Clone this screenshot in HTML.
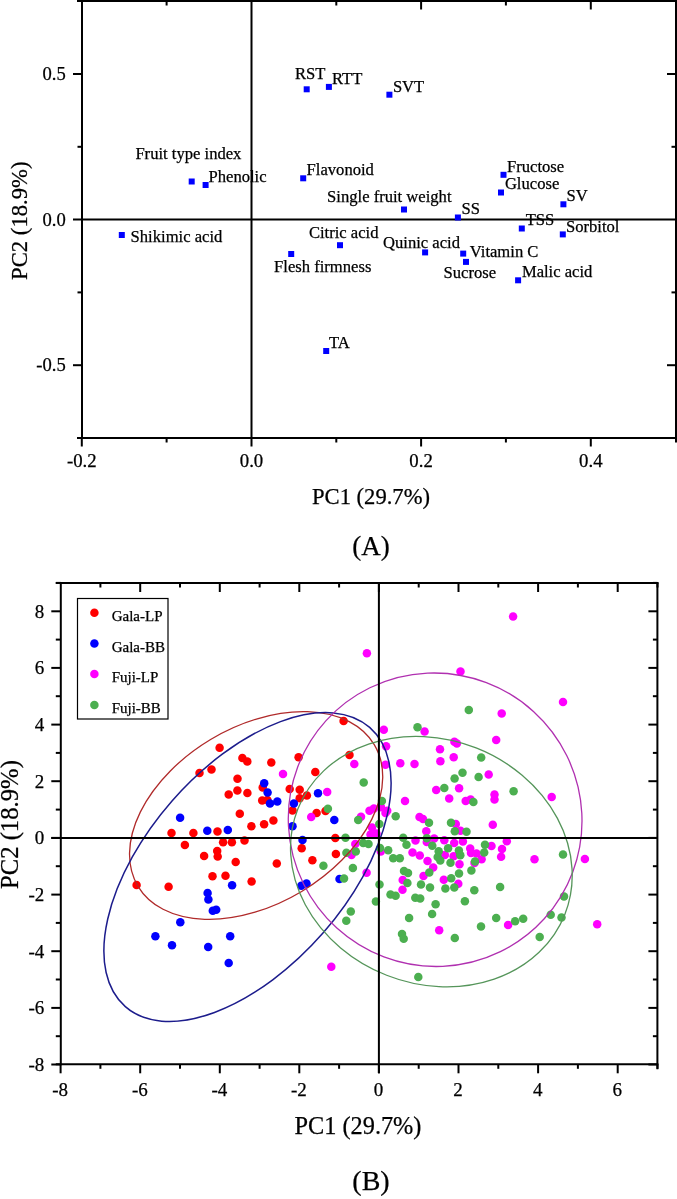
<!DOCTYPE html>
<html><head><meta charset="utf-8"><style>
html,body{margin:0;padding:0;background:#fff;}
svg{display:block;font-family:"Liberation Serif",serif;will-change:transform;}
text{stroke:#000;stroke-width:0.25px;}
</style></head><body>
<svg width="677" height="1199" viewBox="0 0 677 1199">
<rect width="677" height="1199" fill="#fff"/>
<line x1="82.0" y1="0.0" x2="82.0" y2="439.0" stroke="#000" stroke-width="2"/>
<line x1="676.0" y1="0.0" x2="676.0" y2="442.5" stroke="#000" stroke-width="2"/>
<line x1="77.0" y1="1.0" x2="677.0" y2="1.0" stroke="#000" stroke-width="2"/>
<line x1="77.0" y1="438.0" x2="677.0" y2="438.0" stroke="#000" stroke-width="2"/>
<line x1="251.5" y1="0.0" x2="251.5" y2="446.5" stroke="#000" stroke-width="2"/>
<line x1="73.0" y1="219.6" x2="677.0" y2="219.6" stroke="#000" stroke-width="2"/>
<line x1="73.0" y1="74.0" x2="82.0" y2="74.0" stroke="#000" stroke-width="2"/>
<line x1="73.0" y1="365.2" x2="82.0" y2="365.2" stroke="#000" stroke-width="2"/>
<line x1="77.5" y1="146.8" x2="82.0" y2="146.8" stroke="#000" stroke-width="2"/>
<line x1="77.5" y1="292.4" x2="82.0" y2="292.4" stroke="#000" stroke-width="2"/>
<line x1="81.8" y1="438.0" x2="81.8" y2="446.5" stroke="#000" stroke-width="2"/>
<line x1="421.1" y1="438.0" x2="421.1" y2="446.5" stroke="#000" stroke-width="2"/>
<line x1="590.8" y1="438.0" x2="590.8" y2="446.5" stroke="#000" stroke-width="2"/>
<line x1="166.6" y1="438.0" x2="166.6" y2="442.5" stroke="#000" stroke-width="2"/>
<line x1="336.3" y1="438.0" x2="336.3" y2="442.5" stroke="#000" stroke-width="2"/>
<line x1="505.9" y1="438.0" x2="505.9" y2="442.5" stroke="#000" stroke-width="2"/>
<line x1="421.1" y1="1.0" x2="421.1" y2="9.5" stroke="#000" stroke-width="2"/>
<line x1="590.8" y1="1.0" x2="590.8" y2="9.5" stroke="#000" stroke-width="2"/>
<line x1="166.6" y1="1.0" x2="166.6" y2="5.5" stroke="#000" stroke-width="2"/>
<line x1="336.3" y1="1.0" x2="336.3" y2="5.5" stroke="#000" stroke-width="2"/>
<line x1="505.9" y1="1.0" x2="505.9" y2="5.5" stroke="#000" stroke-width="2"/>
<line x1="667.0" y1="74.0" x2="676.0" y2="74.0" stroke="#000" stroke-width="2"/>
<line x1="667.0" y1="365.2" x2="676.0" y2="365.2" stroke="#000" stroke-width="2"/>
<line x1="671.5" y1="146.8" x2="676.0" y2="146.8" stroke="#000" stroke-width="2"/>
<line x1="671.5" y1="292.4" x2="676.0" y2="292.4" stroke="#000" stroke-width="2"/>
<text x="65.8" y="80.2" font-size="18.6" text-anchor="end">0.5</text>
<text x="65.8" y="225.8" font-size="18.6" text-anchor="end">0.0</text>
<text x="65.8" y="371.4" font-size="18.6" text-anchor="end">-0.5</text>
<text x="81.8" y="467.2" font-size="18.8" text-anchor="middle">-0.2</text>
<text x="251.5" y="467.2" font-size="18.8" text-anchor="middle">0.0</text>
<text x="421.1" y="467.2" font-size="18.8" text-anchor="middle">0.2</text>
<text x="590.8" y="467.2" font-size="18.8" text-anchor="middle">0.4</text>
<text x="371.0" y="503.5" font-size="22.6" text-anchor="middle">PC1 (29.7%)</text>
<text x="371.0" y="554.6" font-size="27" text-anchor="middle">(A)</text>
<text transform="translate(26.6,220.7) rotate(-90)" font-size="22.7" text-anchor="middle">PC2 (18.9%)</text>
<rect x="303.7" y="86.3" width="6" height="6" fill="#0000ff"/>
<rect x="325.9" y="83.9" width="6" height="6" fill="#0000ff"/>
<rect x="386.4" y="91.7" width="6" height="6" fill="#0000ff"/>
<rect x="188.7" y="178.5" width="6" height="6" fill="#0000ff"/>
<rect x="202.6" y="182.0" width="6" height="6" fill="#0000ff"/>
<rect x="118.8" y="232.0" width="6" height="6" fill="#0000ff"/>
<rect x="300.2" y="175.3" width="6" height="6" fill="#0000ff"/>
<rect x="401.0" y="206.5" width="6" height="6" fill="#0000ff"/>
<rect x="454.9" y="214.5" width="6" height="6" fill="#0000ff"/>
<rect x="337.0" y="242.2" width="6" height="6" fill="#0000ff"/>
<rect x="288.2" y="251.0" width="6" height="6" fill="#0000ff"/>
<rect x="422.1" y="249.4" width="6" height="6" fill="#0000ff"/>
<rect x="460.2" y="250.6" width="6" height="6" fill="#0000ff"/>
<rect x="463.0" y="258.9" width="6" height="6" fill="#0000ff"/>
<rect x="500.5" y="171.8" width="6" height="6" fill="#0000ff"/>
<rect x="498.0" y="189.5" width="6" height="6" fill="#0000ff"/>
<rect x="560.4" y="201.3" width="6" height="6" fill="#0000ff"/>
<rect x="518.8" y="225.5" width="6" height="6" fill="#0000ff"/>
<rect x="559.8" y="231.4" width="6" height="6" fill="#0000ff"/>
<rect x="515.1" y="277.3" width="6" height="6" fill="#0000ff"/>
<rect x="323.2" y="348.0" width="6" height="6" fill="#0000ff"/>
<text x="294.9" y="78.6" font-size="16.6">RST</text>
<text x="332.0" y="83.8" font-size="16.6">RTT</text>
<text x="392.9" y="91.6" font-size="16.6">SVT</text>
<text x="135.4" y="158.8" font-size="16.6">Fruit type index</text>
<text x="208.5" y="182.3" font-size="16.6">Phenolic</text>
<text x="130.6" y="241.9" font-size="16.6">Shikimic acid</text>
<text x="306.6" y="175.3" font-size="16.6">Flavonoid</text>
<text x="327.1" y="202.0" font-size="16.6">Single fruit weight</text>
<text x="461.5" y="214.2" font-size="16.6">SS</text>
<text x="308.9" y="237.7" font-size="16.6">Citric acid</text>
<text x="274.1" y="272.0" font-size="16.6">Flesh firmness</text>
<text x="383.0" y="247.5" font-size="16.6">Quinic acid</text>
<text x="469.8" y="257.0" font-size="16.6">Vitamin C</text>
<text x="443.5" y="278.1" font-size="16.6">Sucrose</text>
<text x="507.0" y="172.3" font-size="16.6">Fructose</text>
<text x="504.9" y="189.4" font-size="16.6">Glucose</text>
<text x="566.6" y="201.2" font-size="16.6">SV</text>
<text x="525.7" y="225.1" font-size="16.6">TSS</text>
<text x="566.0" y="231.6" font-size="16.6">Sorbitol</text>
<text x="521.9" y="277.2" font-size="16.6">Malic acid</text>
<text x="329.0" y="348.0" font-size="16.6">TA</text>
<circle cx="199.5" cy="773.0" r="4.25" fill="#ff0000"/>
<circle cx="219.6" cy="747.7" r="4.25" fill="#ff0000"/>
<circle cx="242.4" cy="758.0" r="4.25" fill="#ff0000"/>
<circle cx="247.3" cy="761.6" r="4.25" fill="#ff0000"/>
<circle cx="271.3" cy="762.5" r="4.25" fill="#ff0000"/>
<circle cx="211.5" cy="769.4" r="4.25" fill="#ff0000"/>
<circle cx="298.6" cy="757.3" r="4.25" fill="#ff0000"/>
<circle cx="343.6" cy="721.1" r="4.25" fill="#ff0000"/>
<circle cx="349.5" cy="755.1" r="4.25" fill="#ff0000"/>
<circle cx="315.3" cy="772.0" r="4.25" fill="#ff0000"/>
<circle cx="237.5" cy="778.8" r="4.25" fill="#ff0000"/>
<circle cx="237.4" cy="790.5" r="4.25" fill="#ff0000"/>
<circle cx="228.7" cy="794.6" r="4.25" fill="#ff0000"/>
<circle cx="247.4" cy="793.0" r="4.25" fill="#ff0000"/>
<circle cx="262.7" cy="787.6" r="4.25" fill="#ff0000"/>
<circle cx="262.2" cy="800.4" r="4.25" fill="#ff0000"/>
<circle cx="267.4" cy="800.1" r="4.25" fill="#ff0000"/>
<circle cx="289.7" cy="789.0" r="4.25" fill="#ff0000"/>
<circle cx="239.8" cy="813.8" r="4.25" fill="#ff0000"/>
<circle cx="251.4" cy="826.2" r="4.25" fill="#ff0000"/>
<circle cx="264.1" cy="824.3" r="4.25" fill="#ff0000"/>
<circle cx="273.4" cy="820.6" r="4.25" fill="#ff0000"/>
<circle cx="217.5" cy="831.6" r="4.25" fill="#ff0000"/>
<circle cx="223.1" cy="842.2" r="4.25" fill="#ff0000"/>
<circle cx="231.9" cy="842.2" r="4.25" fill="#ff0000"/>
<circle cx="244.5" cy="840.4" r="4.25" fill="#ff0000"/>
<circle cx="217.2" cy="851.1" r="4.25" fill="#ff0000"/>
<circle cx="217.7" cy="856.5" r="4.25" fill="#ff0000"/>
<circle cx="204.1" cy="856.1" r="4.25" fill="#ff0000"/>
<circle cx="171.5" cy="833.0" r="4.25" fill="#ff0000"/>
<circle cx="193.4" cy="833.0" r="4.25" fill="#ff0000"/>
<circle cx="184.9" cy="844.9" r="4.25" fill="#ff0000"/>
<circle cx="299.7" cy="789.8" r="4.25" fill="#ff0000"/>
<circle cx="306.9" cy="795.5" r="4.25" fill="#ff0000"/>
<circle cx="299.7" cy="798.3" r="4.25" fill="#ff0000"/>
<circle cx="292.5" cy="810.4" r="4.25" fill="#ff0000"/>
<circle cx="316.6" cy="812.9" r="4.25" fill="#ff0000"/>
<circle cx="325.5" cy="811.0" r="4.25" fill="#ff0000"/>
<circle cx="301.7" cy="848.2" r="4.25" fill="#ff0000"/>
<circle cx="335.3" cy="838.0" r="4.25" fill="#ff0000"/>
<circle cx="335.9" cy="854.1" r="4.25" fill="#ff0000"/>
<circle cx="312.4" cy="860.2" r="4.25" fill="#ff0000"/>
<circle cx="276.8" cy="863.5" r="4.25" fill="#ff0000"/>
<circle cx="235.7" cy="862.0" r="4.25" fill="#ff0000"/>
<circle cx="212.5" cy="876.3" r="4.25" fill="#ff0000"/>
<circle cx="225.5" cy="875.7" r="4.25" fill="#ff0000"/>
<circle cx="251.6" cy="881.5" r="4.25" fill="#ff0000"/>
<circle cx="136.6" cy="885.0" r="4.25" fill="#ff0000"/>
<circle cx="168.6" cy="886.7" r="4.25" fill="#ff0000"/>
<circle cx="180.1" cy="817.8" r="4.25" fill="#0000ff"/>
<circle cx="264.2" cy="783.3" r="4.25" fill="#0000ff"/>
<circle cx="267.6" cy="792.5" r="4.25" fill="#0000ff"/>
<circle cx="270.0" cy="803.6" r="4.25" fill="#0000ff"/>
<circle cx="277.3" cy="801.6" r="4.25" fill="#0000ff"/>
<circle cx="207.3" cy="830.8" r="4.25" fill="#0000ff"/>
<circle cx="227.8" cy="830.1" r="4.25" fill="#0000ff"/>
<circle cx="318.0" cy="793.3" r="4.25" fill="#0000ff"/>
<circle cx="293.9" cy="803.4" r="4.25" fill="#0000ff"/>
<circle cx="334.3" cy="820.1" r="4.25" fill="#0000ff"/>
<circle cx="292.5" cy="826.3" r="4.25" fill="#0000ff"/>
<circle cx="302.5" cy="840.0" r="4.25" fill="#0000ff"/>
<circle cx="301.3" cy="885.8" r="4.25" fill="#0000ff"/>
<circle cx="306.5" cy="883.5" r="4.25" fill="#0000ff"/>
<circle cx="339.5" cy="879.0" r="4.25" fill="#0000ff"/>
<circle cx="232.1" cy="885.3" r="4.25" fill="#0000ff"/>
<circle cx="207.6" cy="893.0" r="4.25" fill="#0000ff"/>
<circle cx="208.4" cy="899.4" r="4.25" fill="#0000ff"/>
<circle cx="212.8" cy="910.7" r="4.25" fill="#0000ff"/>
<circle cx="216.2" cy="909.7" r="4.25" fill="#0000ff"/>
<circle cx="180.3" cy="922.3" r="4.25" fill="#0000ff"/>
<circle cx="155.4" cy="936.2" r="4.25" fill="#0000ff"/>
<circle cx="172.0" cy="945.3" r="4.25" fill="#0000ff"/>
<circle cx="208.2" cy="946.9" r="4.25" fill="#0000ff"/>
<circle cx="230.2" cy="936.3" r="4.25" fill="#0000ff"/>
<circle cx="228.7" cy="963.0" r="4.25" fill="#0000ff"/>
<circle cx="366.9" cy="653.2" r="4.25" fill="#ff00ff"/>
<circle cx="513.1" cy="616.5" r="4.25" fill="#ff00ff"/>
<circle cx="460.5" cy="671.4" r="4.25" fill="#ff00ff"/>
<circle cx="563.0" cy="702.0" r="4.25" fill="#ff00ff"/>
<circle cx="501.7" cy="713.6" r="4.25" fill="#ff00ff"/>
<circle cx="496.2" cy="739.9" r="4.25" fill="#ff00ff"/>
<circle cx="283.0" cy="773.9" r="4.25" fill="#ff00ff"/>
<circle cx="354.3" cy="764.0" r="4.25" fill="#ff00ff"/>
<circle cx="383.8" cy="729.8" r="4.25" fill="#ff00ff"/>
<circle cx="386.1" cy="746.2" r="4.25" fill="#ff00ff"/>
<circle cx="385.5" cy="764.8" r="4.25" fill="#ff00ff"/>
<circle cx="424.6" cy="731.5" r="4.25" fill="#ff00ff"/>
<circle cx="454.4" cy="741.8" r="4.25" fill="#ff00ff"/>
<circle cx="456.9" cy="743.6" r="4.25" fill="#ff00ff"/>
<circle cx="440.0" cy="749.2" r="4.25" fill="#ff00ff"/>
<circle cx="453.7" cy="757.3" r="4.25" fill="#ff00ff"/>
<circle cx="440.4" cy="761.3" r="4.25" fill="#ff00ff"/>
<circle cx="400.3" cy="763.2" r="4.25" fill="#ff00ff"/>
<circle cx="414.5" cy="764.1" r="4.25" fill="#ff00ff"/>
<circle cx="488.7" cy="774.5" r="4.25" fill="#ff00ff"/>
<circle cx="327.2" cy="792.1" r="4.25" fill="#ff00ff"/>
<circle cx="311.2" cy="817.0" r="4.25" fill="#ff00ff"/>
<circle cx="361.0" cy="816.8" r="4.25" fill="#ff00ff"/>
<circle cx="369.5" cy="810.8" r="4.25" fill="#ff00ff"/>
<circle cx="373.9" cy="808.6" r="4.25" fill="#ff00ff"/>
<circle cx="381.0" cy="807.3" r="4.25" fill="#ff00ff"/>
<circle cx="385.5" cy="813.0" r="4.25" fill="#ff00ff"/>
<circle cx="387.2" cy="810.8" r="4.25" fill="#ff00ff"/>
<circle cx="405.0" cy="801.1" r="4.25" fill="#ff00ff"/>
<circle cx="372.0" cy="827.5" r="4.25" fill="#ff00ff"/>
<circle cx="370.5" cy="834.5" r="4.25" fill="#ff00ff"/>
<circle cx="376.5" cy="833.5" r="4.25" fill="#ff00ff"/>
<circle cx="355.3" cy="844.1" r="4.25" fill="#ff00ff"/>
<circle cx="436.2" cy="790.1" r="4.25" fill="#ff00ff"/>
<circle cx="459.1" cy="788.3" r="4.25" fill="#ff00ff"/>
<circle cx="449.2" cy="798.6" r="4.25" fill="#ff00ff"/>
<circle cx="465.7" cy="801.1" r="4.25" fill="#ff00ff"/>
<circle cx="470.6" cy="799.4" r="4.25" fill="#ff00ff"/>
<circle cx="494.5" cy="794.5" r="4.25" fill="#ff00ff"/>
<circle cx="494.5" cy="799.5" r="4.25" fill="#ff00ff"/>
<circle cx="419.5" cy="817.0" r="4.25" fill="#ff00ff"/>
<circle cx="423.0" cy="819.0" r="4.25" fill="#ff00ff"/>
<circle cx="455.8" cy="824.0" r="4.25" fill="#ff00ff"/>
<circle cx="492.8" cy="824.7" r="4.25" fill="#ff00ff"/>
<circle cx="426.3" cy="831.3" r="4.25" fill="#ff00ff"/>
<circle cx="460.5" cy="830.7" r="4.25" fill="#ff00ff"/>
<circle cx="415.5" cy="840.6" r="4.25" fill="#ff00ff"/>
<circle cx="426.8" cy="842.0" r="4.25" fill="#ff00ff"/>
<circle cx="434.2" cy="838.6" r="4.25" fill="#ff00ff"/>
<circle cx="444.3" cy="840.3" r="4.25" fill="#ff00ff"/>
<circle cx="454.2" cy="843.1" r="4.25" fill="#ff00ff"/>
<circle cx="462.9" cy="841.6" r="4.25" fill="#ff00ff"/>
<circle cx="470.2" cy="848.4" r="4.25" fill="#ff00ff"/>
<circle cx="491.5" cy="846.0" r="4.25" fill="#ff00ff"/>
<circle cx="412.5" cy="852.4" r="4.25" fill="#ff00ff"/>
<circle cx="419.8" cy="855.5" r="4.25" fill="#ff00ff"/>
<circle cx="476.5" cy="853.6" r="4.25" fill="#ff00ff"/>
<circle cx="444.8" cy="855.1" r="4.25" fill="#ff00ff"/>
<circle cx="453.6" cy="856.3" r="4.25" fill="#ff00ff"/>
<circle cx="427.5" cy="860.9" r="4.25" fill="#ff00ff"/>
<circle cx="433.2" cy="867.6" r="4.25" fill="#ff00ff"/>
<circle cx="423.5" cy="876.0" r="4.25" fill="#ff00ff"/>
<circle cx="402.7" cy="880.0" r="4.25" fill="#ff00ff"/>
<circle cx="443.8" cy="879.8" r="4.25" fill="#ff00ff"/>
<circle cx="459.5" cy="864.3" r="4.25" fill="#ff00ff"/>
<circle cx="458.3" cy="883.7" r="4.25" fill="#ff00ff"/>
<circle cx="506.8" cy="841.2" r="4.25" fill="#ff00ff"/>
<circle cx="502.0" cy="849.1" r="4.25" fill="#ff00ff"/>
<circle cx="501.1" cy="856.7" r="4.25" fill="#ff00ff"/>
<circle cx="471.0" cy="853.0" r="4.25" fill="#ff00ff"/>
<circle cx="481.6" cy="859.3" r="4.25" fill="#ff00ff"/>
<circle cx="474.5" cy="862.9" r="4.25" fill="#ff00ff"/>
<circle cx="551.7" cy="797.1" r="4.25" fill="#ff00ff"/>
<circle cx="584.9" cy="859.1" r="4.25" fill="#ff00ff"/>
<circle cx="597.2" cy="924.3" r="4.25" fill="#ff00ff"/>
<circle cx="534.5" cy="859.3" r="4.25" fill="#ff00ff"/>
<circle cx="508.1" cy="925.0" r="4.25" fill="#ff00ff"/>
<circle cx="351.5" cy="855.1" r="4.25" fill="#ff00ff"/>
<circle cx="380.8" cy="851.5" r="4.25" fill="#ff00ff"/>
<circle cx="366.6" cy="872.8" r="4.25" fill="#ff00ff"/>
<circle cx="402.5" cy="889.7" r="4.25" fill="#ff00ff"/>
<circle cx="439.2" cy="930.2" r="4.25" fill="#ff00ff"/>
<circle cx="331.3" cy="966.8" r="4.25" fill="#ff00ff"/>
<circle cx="468.8" cy="709.9" r="4.25" fill="#4caf50"/>
<circle cx="417.5" cy="727.3" r="4.25" fill="#4caf50"/>
<circle cx="481.2" cy="757.5" r="4.25" fill="#4caf50"/>
<circle cx="462.5" cy="772.8" r="4.25" fill="#4caf50"/>
<circle cx="454.6" cy="778.5" r="4.25" fill="#4caf50"/>
<circle cx="478.6" cy="777.0" r="4.25" fill="#4caf50"/>
<circle cx="363.7" cy="782.4" r="4.25" fill="#4caf50"/>
<circle cx="327.9" cy="808.8" r="4.25" fill="#4caf50"/>
<circle cx="358.2" cy="820.1" r="4.25" fill="#4caf50"/>
<circle cx="345.5" cy="837.8" r="4.25" fill="#4caf50"/>
<circle cx="363.2" cy="843.0" r="4.25" fill="#4caf50"/>
<circle cx="368.5" cy="844.1" r="4.25" fill="#4caf50"/>
<circle cx="346.4" cy="852.7" r="4.25" fill="#4caf50"/>
<circle cx="355.8" cy="851.5" r="4.25" fill="#4caf50"/>
<circle cx="381.9" cy="801.1" r="4.25" fill="#4caf50"/>
<circle cx="395.7" cy="816.2" r="4.25" fill="#4caf50"/>
<circle cx="379.3" cy="824.1" r="4.25" fill="#4caf50"/>
<circle cx="403.2" cy="837.7" r="4.25" fill="#4caf50"/>
<circle cx="406.5" cy="844.7" r="4.25" fill="#4caf50"/>
<circle cx="380.0" cy="848.0" r="4.25" fill="#4caf50"/>
<circle cx="388.2" cy="850.2" r="4.25" fill="#4caf50"/>
<circle cx="444.3" cy="787.9" r="4.25" fill="#4caf50"/>
<circle cx="473.4" cy="801.9" r="4.25" fill="#4caf50"/>
<circle cx="429.0" cy="822.8" r="4.25" fill="#4caf50"/>
<circle cx="451.0" cy="822.8" r="4.25" fill="#4caf50"/>
<circle cx="454.8" cy="831.2" r="4.25" fill="#4caf50"/>
<circle cx="466.5" cy="831.8" r="4.25" fill="#4caf50"/>
<circle cx="426.8" cy="838.2" r="4.25" fill="#4caf50"/>
<circle cx="432.3" cy="845.7" r="4.25" fill="#4caf50"/>
<circle cx="448.1" cy="848.3" r="4.25" fill="#4caf50"/>
<circle cx="438.7" cy="851.2" r="4.25" fill="#4caf50"/>
<circle cx="458.9" cy="850.4" r="4.25" fill="#4caf50"/>
<circle cx="485.0" cy="844.8" r="4.25" fill="#4caf50"/>
<circle cx="484.2" cy="852.5" r="4.25" fill="#4caf50"/>
<circle cx="437.7" cy="857.0" r="4.25" fill="#4caf50"/>
<circle cx="440.3" cy="860.5" r="4.25" fill="#4caf50"/>
<circle cx="450.5" cy="862.7" r="4.25" fill="#4caf50"/>
<circle cx="399.8" cy="858.2" r="4.25" fill="#4caf50"/>
<circle cx="429.3" cy="872.4" r="4.25" fill="#4caf50"/>
<circle cx="404.0" cy="871.1" r="4.25" fill="#4caf50"/>
<circle cx="408.0" cy="872.9" r="4.25" fill="#4caf50"/>
<circle cx="407.4" cy="883.0" r="4.25" fill="#4caf50"/>
<circle cx="421.0" cy="884.5" r="4.25" fill="#4caf50"/>
<circle cx="451.2" cy="878.2" r="4.25" fill="#4caf50"/>
<circle cx="459.0" cy="873.6" r="4.25" fill="#4caf50"/>
<circle cx="460.3" cy="855.3" r="4.25" fill="#4caf50"/>
<circle cx="475.0" cy="861.5" r="4.25" fill="#4caf50"/>
<circle cx="471.4" cy="870.4" r="4.25" fill="#4caf50"/>
<circle cx="513.6" cy="791.3" r="4.25" fill="#4caf50"/>
<circle cx="563.0" cy="854.5" r="4.25" fill="#4caf50"/>
<circle cx="564.0" cy="896.4" r="4.25" fill="#4caf50"/>
<circle cx="550.7" cy="914.7" r="4.25" fill="#4caf50"/>
<circle cx="561.5" cy="917.5" r="4.25" fill="#4caf50"/>
<circle cx="515.1" cy="921.2" r="4.25" fill="#4caf50"/>
<circle cx="523.2" cy="918.8" r="4.25" fill="#4caf50"/>
<circle cx="323.4" cy="865.7" r="4.25" fill="#4caf50"/>
<circle cx="393.2" cy="858.2" r="4.25" fill="#4caf50"/>
<circle cx="352.9" cy="867.9" r="4.25" fill="#4caf50"/>
<circle cx="344.0" cy="878.6" r="4.25" fill="#4caf50"/>
<circle cx="379.5" cy="884.6" r="4.25" fill="#4caf50"/>
<circle cx="390.5" cy="894.5" r="4.25" fill="#4caf50"/>
<circle cx="395.6" cy="895.8" r="4.25" fill="#4caf50"/>
<circle cx="375.9" cy="901.6" r="4.25" fill="#4caf50"/>
<circle cx="415.3" cy="897.7" r="4.25" fill="#4caf50"/>
<circle cx="420.2" cy="898.6" r="4.25" fill="#4caf50"/>
<circle cx="445.4" cy="888.5" r="4.25" fill="#4caf50"/>
<circle cx="454.3" cy="887.4" r="4.25" fill="#4caf50"/>
<circle cx="474.3" cy="890.3" r="4.25" fill="#4caf50"/>
<circle cx="464.9" cy="901.3" r="4.25" fill="#4caf50"/>
<circle cx="435.6" cy="904.3" r="4.25" fill="#4caf50"/>
<circle cx="432.1" cy="914.0" r="4.25" fill="#4caf50"/>
<circle cx="409.1" cy="918.1" r="4.25" fill="#4caf50"/>
<circle cx="402.0" cy="934.1" r="4.25" fill="#4caf50"/>
<circle cx="403.7" cy="938.8" r="4.25" fill="#4caf50"/>
<circle cx="454.8" cy="938.0" r="4.25" fill="#4caf50"/>
<circle cx="418.3" cy="977.0" r="4.25" fill="#4caf50"/>
<circle cx="500.1" cy="887.1" r="4.25" fill="#4caf50"/>
<circle cx="496.2" cy="918.1" r="4.25" fill="#4caf50"/>
<circle cx="481.0" cy="926.4" r="4.25" fill="#4caf50"/>
<circle cx="539.7" cy="937.1" r="4.25" fill="#4caf50"/>
<circle cx="350.8" cy="911.5" r="4.25" fill="#4caf50"/>
<circle cx="346.3" cy="920.8" r="4.25" fill="#4caf50"/>
<circle cx="430.0" cy="887.6" r="4.25" fill="#4caf50"/>
<ellipse cx="256.13" cy="815.49" rx="88.57" ry="137.72" transform="rotate(59.06 256.13 815.49)" fill="none" stroke="#b02a2a" stroke-width="1.3"/>
<ellipse cx="247.49" cy="867.02" rx="100.31" ry="185.5" transform="rotate(41.19 247.49 867.02)" fill="none" stroke="#1c1c8c" stroke-width="1.5"/>
<ellipse cx="435.14" cy="819.74" rx="147.37" ry="146.24" transform="rotate(42.24 435.14 819.74)" fill="none" stroke="#b030b0" stroke-width="1.3"/>
<ellipse cx="431.37" cy="861.59" rx="122.16" ry="143.53" transform="rotate(-68.51 431.37 861.59)" fill="none" stroke="#55955a" stroke-width="1.3"/>
<rect x="77.5" y="598.5" width="90.5" height="120.5" fill="#fff" stroke="#000" stroke-width="1.2"/>
<circle cx="94.4" cy="612.7" r="4.25" fill="#ff0000"/>
<text x="111.7" y="621.2" font-size="15">Gala-LP</text>
<circle cx="94.4" cy="643.5" r="4.25" fill="#0000ff"/>
<text x="111.7" y="651.9" font-size="15">Gala-BB</text>
<circle cx="94.4" cy="674.1" r="4.25" fill="#ff00ff"/>
<text x="111.7" y="682.2" font-size="15">Fuji-LP</text>
<circle cx="94.4" cy="705.1" r="4.25" fill="#4caf50"/>
<text x="111.7" y="712.9" font-size="15">Fuji-BB</text>
<line x1="648.4" y1="1064.5" x2="657.4" y2="1064.5" stroke="#000" stroke-width="2"/>
<line x1="652.9" y1="1036.2" x2="657.4" y2="1036.2" stroke="#000" stroke-width="2"/>
<line x1="648.4" y1="1007.9" x2="657.4" y2="1007.9" stroke="#000" stroke-width="2"/>
<line x1="652.9" y1="979.5" x2="657.4" y2="979.5" stroke="#000" stroke-width="2"/>
<line x1="648.4" y1="951.2" x2="657.4" y2="951.2" stroke="#000" stroke-width="2"/>
<line x1="652.9" y1="922.9" x2="657.4" y2="922.9" stroke="#000" stroke-width="2"/>
<line x1="648.4" y1="894.6" x2="657.4" y2="894.6" stroke="#000" stroke-width="2"/>
<line x1="652.9" y1="866.2" x2="657.4" y2="866.2" stroke="#000" stroke-width="2"/>
<line x1="648.4" y1="837.9" x2="657.4" y2="837.9" stroke="#000" stroke-width="2"/>
<line x1="652.9" y1="809.6" x2="657.4" y2="809.6" stroke="#000" stroke-width="2"/>
<line x1="648.4" y1="781.2" x2="657.4" y2="781.2" stroke="#000" stroke-width="2"/>
<line x1="652.9" y1="752.9" x2="657.4" y2="752.9" stroke="#000" stroke-width="2"/>
<line x1="648.4" y1="724.6" x2="657.4" y2="724.6" stroke="#000" stroke-width="2"/>
<line x1="652.9" y1="696.2" x2="657.4" y2="696.2" stroke="#000" stroke-width="2"/>
<line x1="648.4" y1="667.9" x2="657.4" y2="667.9" stroke="#000" stroke-width="2"/>
<line x1="652.9" y1="639.6" x2="657.4" y2="639.6" stroke="#000" stroke-width="2"/>
<line x1="648.4" y1="611.3" x2="657.4" y2="611.3" stroke="#000" stroke-width="2"/>
<line x1="652.9" y1="582.9" x2="657.4" y2="582.9" stroke="#000" stroke-width="2"/>
<line x1="60.8" y1="582.0" x2="60.8" y2="1065.3" stroke="#000" stroke-width="2"/>
<line x1="657.4" y1="582.0" x2="657.4" y2="1069.3" stroke="#000" stroke-width="2"/>
<line x1="55.8" y1="583.0" x2="658.4" y2="583.0" stroke="#000" stroke-width="2"/>
<line x1="55.8" y1="1064.3" x2="658.4" y2="1064.3" stroke="#000" stroke-width="2"/>
<line x1="378.9" y1="583.0" x2="378.9" y2="1073.3" stroke="#000" stroke-width="2"/>
<line x1="51.3" y1="837.9" x2="657.4" y2="837.9" stroke="#000" stroke-width="2"/>
<line x1="51.3" y1="1064.5" x2="60.8" y2="1064.5" stroke="#000" stroke-width="2"/>
<line x1="55.8" y1="1036.2" x2="60.8" y2="1036.2" stroke="#000" stroke-width="2"/>
<line x1="51.3" y1="1007.9" x2="60.8" y2="1007.9" stroke="#000" stroke-width="2"/>
<line x1="55.8" y1="979.5" x2="60.8" y2="979.5" stroke="#000" stroke-width="2"/>
<line x1="51.3" y1="951.2" x2="60.8" y2="951.2" stroke="#000" stroke-width="2"/>
<line x1="55.8" y1="922.9" x2="60.8" y2="922.9" stroke="#000" stroke-width="2"/>
<line x1="51.3" y1="894.6" x2="60.8" y2="894.6" stroke="#000" stroke-width="2"/>
<line x1="55.8" y1="866.2" x2="60.8" y2="866.2" stroke="#000" stroke-width="2"/>
<line x1="51.3" y1="837.9" x2="60.8" y2="837.9" stroke="#000" stroke-width="2"/>
<line x1="55.8" y1="809.6" x2="60.8" y2="809.6" stroke="#000" stroke-width="2"/>
<line x1="51.3" y1="781.2" x2="60.8" y2="781.2" stroke="#000" stroke-width="2"/>
<line x1="55.8" y1="752.9" x2="60.8" y2="752.9" stroke="#000" stroke-width="2"/>
<line x1="51.3" y1="724.6" x2="60.8" y2="724.6" stroke="#000" stroke-width="2"/>
<line x1="55.8" y1="696.2" x2="60.8" y2="696.2" stroke="#000" stroke-width="2"/>
<line x1="51.3" y1="667.9" x2="60.8" y2="667.9" stroke="#000" stroke-width="2"/>
<line x1="55.8" y1="639.6" x2="60.8" y2="639.6" stroke="#000" stroke-width="2"/>
<line x1="51.3" y1="611.3" x2="60.8" y2="611.3" stroke="#000" stroke-width="2"/>
<line x1="55.8" y1="582.9" x2="60.8" y2="582.9" stroke="#000" stroke-width="2"/>
<line x1="60.6" y1="1064.3" x2="60.6" y2="1073.3" stroke="#000" stroke-width="2"/>
<line x1="100.4" y1="1064.3" x2="100.4" y2="1068.8" stroke="#000" stroke-width="2"/>
<line x1="100.4" y1="583.0" x2="100.4" y2="587.5" stroke="#000" stroke-width="2"/>
<line x1="140.2" y1="1064.3" x2="140.2" y2="1073.3" stroke="#000" stroke-width="2"/>
<line x1="140.2" y1="583.0" x2="140.2" y2="592.0" stroke="#000" stroke-width="2"/>
<line x1="180.0" y1="1064.3" x2="180.0" y2="1068.8" stroke="#000" stroke-width="2"/>
<line x1="180.0" y1="583.0" x2="180.0" y2="587.5" stroke="#000" stroke-width="2"/>
<line x1="219.8" y1="1064.3" x2="219.8" y2="1073.3" stroke="#000" stroke-width="2"/>
<line x1="219.8" y1="583.0" x2="219.8" y2="592.0" stroke="#000" stroke-width="2"/>
<line x1="259.6" y1="1064.3" x2="259.6" y2="1068.8" stroke="#000" stroke-width="2"/>
<line x1="259.6" y1="583.0" x2="259.6" y2="587.5" stroke="#000" stroke-width="2"/>
<line x1="299.3" y1="1064.3" x2="299.3" y2="1073.3" stroke="#000" stroke-width="2"/>
<line x1="299.3" y1="583.0" x2="299.3" y2="592.0" stroke="#000" stroke-width="2"/>
<line x1="339.1" y1="1064.3" x2="339.1" y2="1068.8" stroke="#000" stroke-width="2"/>
<line x1="339.1" y1="583.0" x2="339.1" y2="587.5" stroke="#000" stroke-width="2"/>
<line x1="378.9" y1="1064.3" x2="378.9" y2="1073.3" stroke="#000" stroke-width="2"/>
<line x1="378.9" y1="583.0" x2="378.9" y2="592.0" stroke="#000" stroke-width="2"/>
<line x1="418.7" y1="1064.3" x2="418.7" y2="1068.8" stroke="#000" stroke-width="2"/>
<line x1="418.7" y1="583.0" x2="418.7" y2="587.5" stroke="#000" stroke-width="2"/>
<line x1="458.5" y1="1064.3" x2="458.5" y2="1073.3" stroke="#000" stroke-width="2"/>
<line x1="458.5" y1="583.0" x2="458.5" y2="592.0" stroke="#000" stroke-width="2"/>
<line x1="498.3" y1="1064.3" x2="498.3" y2="1068.8" stroke="#000" stroke-width="2"/>
<line x1="498.3" y1="583.0" x2="498.3" y2="587.5" stroke="#000" stroke-width="2"/>
<line x1="538.1" y1="1064.3" x2="538.1" y2="1073.3" stroke="#000" stroke-width="2"/>
<line x1="538.1" y1="583.0" x2="538.1" y2="592.0" stroke="#000" stroke-width="2"/>
<line x1="577.9" y1="1064.3" x2="577.9" y2="1068.8" stroke="#000" stroke-width="2"/>
<line x1="577.9" y1="583.0" x2="577.9" y2="587.5" stroke="#000" stroke-width="2"/>
<line x1="617.7" y1="1064.3" x2="617.7" y2="1073.3" stroke="#000" stroke-width="2"/>
<line x1="617.7" y1="583.0" x2="617.7" y2="592.0" stroke="#000" stroke-width="2"/>
<line x1="657.5" y1="1064.3" x2="657.5" y2="1068.8" stroke="#000" stroke-width="2"/>
<line x1="657.5" y1="583.0" x2="657.5" y2="587.5" stroke="#000" stroke-width="2"/>
<text x="44.3" y="1071.0" font-size="19" text-anchor="end">-8</text>
<text x="44.3" y="1014.4" font-size="19" text-anchor="end">-6</text>
<text x="44.3" y="957.7" font-size="19" text-anchor="end">-4</text>
<text x="44.3" y="901.1" font-size="19" text-anchor="end">-2</text>
<text x="44.3" y="844.4" font-size="19" text-anchor="end">0</text>
<text x="44.3" y="787.7" font-size="19" text-anchor="end">2</text>
<text x="44.3" y="731.1" font-size="19" text-anchor="end">4</text>
<text x="44.3" y="674.4" font-size="19" text-anchor="end">6</text>
<text x="44.3" y="617.8" font-size="19" text-anchor="end">8</text>
<text x="60.2" y="1095.6" font-size="19" text-anchor="middle">-8</text>
<text x="139.8" y="1095.6" font-size="19" text-anchor="middle">-6</text>
<text x="219.4" y="1095.6" font-size="19" text-anchor="middle">-4</text>
<text x="298.9" y="1095.6" font-size="19" text-anchor="middle">-2</text>
<text x="378.5" y="1095.6" font-size="19" text-anchor="middle">0</text>
<text x="458.1" y="1095.6" font-size="19" text-anchor="middle">2</text>
<text x="537.7" y="1095.6" font-size="19" text-anchor="middle">4</text>
<text x="617.3" y="1095.6" font-size="19" text-anchor="middle">6</text>
<text x="358.0" y="1134.4" font-size="24.3" text-anchor="middle">PC1 (29.7%)</text>
<text x="371.0" y="1189.6" font-size="28" text-anchor="middle">(B)</text>
<text transform="translate(17.6,824.6) rotate(-90)" font-size="24.7" text-anchor="middle">PC2 (18.9%)</text>
</svg></body></html>
